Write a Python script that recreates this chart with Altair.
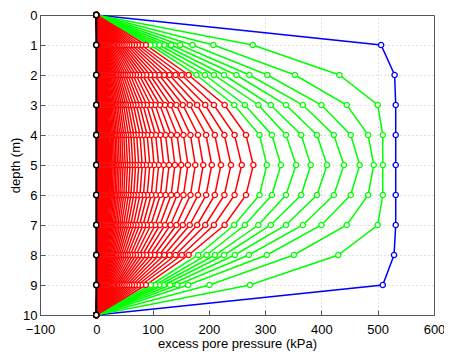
import altair as alt
import pandas as pd

depths = [0, 1, 2, 3, 4, 5, 6, 7, 8, 9, 10]
x_ticks = [-100, 0, 100, 200, 300, 400, 500, 600]
y_ticks = [0, 1, 2, 3, 4, 5, 6, 7, 8, 9, 10]

# initial isochrone (blue)
blue_u = [0, 506, 530, 532, 532, 532, 532, 532, 529, 509, 0]

# green isochrones, values at depth 1..9 (outermost first)
green_d1 = [278, 208, 171, 149, 133, 121, 112, 103, 96]
green_d2 = [432, 353, 304, 272, 249, 227, 209, 193, 178]
green_d3 = [500, 445, 400, 367, 337, 310, 288, 264, 245]
green_d4 = [509, 483, 452, 422, 392, 364, 337, 312, 290]
green_d5 = [509, 493, 468, 440, 410, 381, 355, 328, 303]
green_d6 = [509, 483, 452, 422, 392, 364, 337, 312, 290]
green_d7 = [500, 445, 400, 367, 337, 310, 288, 264, 245]
green_d8 = [430, 351, 303, 271, 246, 227, 211, 196, 181]
green_d9 = [273, 201, 163, 144, 131, 120, 112, 105, 97]

# red isochrones, values at depth 1..5 (depth 6..9 mirror 4..1)
red_d5 = [279, 258.4, 239.3, 221.5, 205.2, 190.0, 175.9, 162.9, 150.9, 139.7,
          129.4, 119.8, 110.9, 102.7, 95.1, 88.1, 81.6, 75.5, 69.9, 64.8,
          60.0, 55.5, 51.4, 47.6, 44.1, 40.8, 37.8, 35.0, 32.4, 30.0,
          27.8, 25.7, 23.8, 22.1, 20.4, 18.9, 17.5, 16.2, 15.0, 13.9,
          12.9, 11.9, 11.0, 10.2, 9.5, 8.8, 8.1, 7.5, 7.0, 6.5,
          6.0, 5.5, 5.1, 4.7, 4.4, 4.1, 3.8, 3.5, 3.2, 3.0]
red_d4 = [266, 245.7, 227.6, 210.6, 195.1, 180.7, 167.3, 154.9, 143.5, 132.9,
          123.1, 113.9, 105.5, 97.7, 90.4, 83.8, 77.6, 71.8, 66.5, 61.6,
          57.1, 52.8, 48.9, 45.3, 41.9, 38.8, 35.9, 33.3, 30.8, 28.5,
          26.4, 24.4, 22.6, 21.0, 19.4, 18.0, 16.6, 15.4, 14.3, 13.2,
          12.3, 11.3, 10.5, 9.7, 9.0, 8.4, 7.7, 7.1, 6.7, 6.2,
          5.7, 5.2, 4.9, 4.5, 4.2, 3.9, 3.6, 3.3, 3.0, 2.9]
red_d3 = [228, 209.0, 193.6, 179.2, 166.0, 153.7, 142.3, 131.8, 122.1, 113.0,
          104.7, 96.9, 89.7, 83.1, 76.9, 71.3, 66.0, 61.1, 56.5, 52.4,
          48.5, 44.9, 41.6, 38.5, 35.7, 33.0, 30.6, 28.3, 26.2, 24.3,
          22.5, 20.8, 19.3, 17.9, 16.5, 15.3, 14.2, 13.1, 12.1, 11.2,
          10.4, 9.6, 8.9, 8.3, 7.7, 7.1, 6.6, 6.1, 5.7, 5.3,
          4.9, 4.4, 4.1, 3.8, 3.6, 3.3, 3.1, 2.8, 2.6, 2.4]
red_d2 = [164.1, 151.9, 140.7, 130.2, 120.7, 111.7, 103.4, 95.8, 88.7, 82.1,
          76.1, 70.4, 65.2, 60.4, 55.9, 51.8, 48.0, 44.4, 41.1, 38.1,
          35.3, 32.6, 30.2, 28.0, 25.9, 24.0, 22.2, 20.6, 19.1, 17.6,
          16.3, 15.1, 14.0, 13.0, 12.0, 11.1, 10.3, 9.5, 8.8, 8.2,
          7.6, 7.0, 6.5, 6.0, 5.6, 5.2, 4.8, 4.4, 4.1, 3.8,
          3.5, 3.2, 3.0, 2.8, 2.6, 2.4, 2.2, 2.1, 1.9, 1.8]
red_d1 = [88, 79.8, 73.9, 68.4, 63.4, 58.7, 54.4, 50.3, 46.6, 43.2,
          40.0, 37.0, 34.3, 31.7, 29.4, 27.2, 25.2, 23.3, 21.6, 20.0,
          18.5, 17.1, 15.9, 14.7, 13.6, 12.6, 11.7, 10.8, 10.0, 9.3,
          8.6, 7.9, 7.4, 6.8, 6.3, 5.8, 5.4, 5.0, 4.6, 4.3,
          4.0, 3.7, 3.4, 3.2, 2.9, 2.7, 2.5, 2.3, 2.2, 2.0,
          1.9, 1.7, 1.6, 1.5, 1.4, 1.3, 1.2, 1.1, 1.0, 0.9]

black_u = [0, 0, 0, 0, 0, 0, 0, 0, 0, 0, 0]

rows = []
lid = 0
for d, u in zip(depths, blue_u):
    rows.append({"line": lid, "grp": "blue", "depth": d, "u": u})
lid += 1
g_cols = [green_d1, green_d2, green_d3, green_d4, green_d5,
          green_d6, green_d7, green_d8, green_d9]
for i in range(len(green_d5)):
    vals = [0] + [c[i] for c in g_cols] + [0]
    for d, u in zip(depths, vals):
        rows.append({"line": lid, "grp": "green", "depth": d, "u": u})
    lid += 1
r_cols = [red_d1, red_d2, red_d3, red_d4, red_d5, red_d4, red_d3, red_d2, red_d1]
for i in range(len(red_d5)):
    vals = [0] + [c[i] for c in r_cols] + [0]
    for d, u in zip(depths, vals):
        rows.append({"line": lid, "grp": "red", "depth": d, "u": u})
    lid += 1
df = pd.DataFrame(rows)
df_black = pd.DataFrame({"depth": depths, "u": black_u})

W, H = 394, 300
xs = alt.Scale(domain=[-100, 600], nice=False, zero=False)
ys = alt.Scale(domain=[0, 10], reverse=True, nice=False)
cs = alt.Scale(domain=["blue", "green", "red"], range=["#0000ff", "#00ff00", "#ff0000"])

grid_x = alt.condition("datum.value == -100 || datum.value == 600", alt.value("transparent"), alt.value("#c4c4c4"))
grid_y = alt.condition("datum.value == 0 || datum.value == 10", alt.value("transparent"), alt.value("#c4c4c4"))

lines = alt.Chart(df).mark_line(strokeWidth=1.5).encode(
    x=alt.X("u:Q", scale=xs, axis=alt.Axis(orient="bottom", values=x_ticks, title="excess pore pressure (kPa)",
                                           grid=True, gridColor=grid_x, ticks=False, labelPadding=8,
                                           titlePadding=1, labelFlush=False)),
    y=alt.Y("depth:Q", scale=ys, axis=alt.Axis(orient="left", values=y_ticks, title="depth (m)",
                                               grid=True, gridColor=grid_y, ticks=False, labelPadding=3,
                                               titleX=-18, titleBaseline="bottom")),
    color=alt.Color("grp:N", scale=cs, legend=None),
    detail="line:N",
    order="depth:Q",
)

points = alt.Chart(df).mark_point(shape="circle", size=28, fill="white", fillOpacity=1,
                                  strokeWidth=1.3, opacity=1).encode(
    x=alt.X("u:Q", scale=xs, axis=alt.Axis(orient="top", offset=-H, values=x_ticks, labels=False,
                                           domain=False, grid=False, ticks=True, tickSize=5,
                                           tickColor="#555", title=None)),
    y=alt.Y("depth:Q", scale=ys, axis=alt.Axis(orient="right", offset=-W, values=y_ticks, labels=False,
                                               domain=False, grid=False, ticks=True, tickSize=5,
                                               tickColor="#555", title=None)),
    stroke=alt.Stroke("grp:N", scale=cs, legend=None),
)

black_line = alt.Chart(df_black).mark_line(color="black", strokeWidth=2).encode(
    x=alt.X("u:Q", scale=xs, axis=None),
    y=alt.Y("depth:Q", scale=ys, axis=None),
    order="depth:Q",
)
black_pts = alt.Chart(df_black).mark_point(shape="circle", size=28, fill="white", fillOpacity=1,
                                           stroke="black", strokeWidth=1.5, opacity=1).encode(
    x=alt.X("u:Q", scale=xs, axis=None),
    y=alt.Y("depth:Q", scale=ys, axis=None),
)

chart = alt.layer(lines, points, black_line, black_pts).resolve_axis(
    x="independent", y="independent"
).properties(
    width=W, height=H,
    autosize=alt.AutoSizeParams(type="none"),
    padding={"left": 32, "top": 7, "right": 10, "bottom": 36},
).configure(
    font="Liberation Sans",
).configure_axis(
    labelFontSize=13, titleFontSize=13, labelColor="black", titleColor="black",
    titleFontWeight="normal", gridDash=[1, 3], gridWidth=1,
    domainColor="#555",
).configure_view(stroke="#555", strokeWidth=1)

chart.save("out.html", embed_options={"renderer": "svg", "actions": False})
